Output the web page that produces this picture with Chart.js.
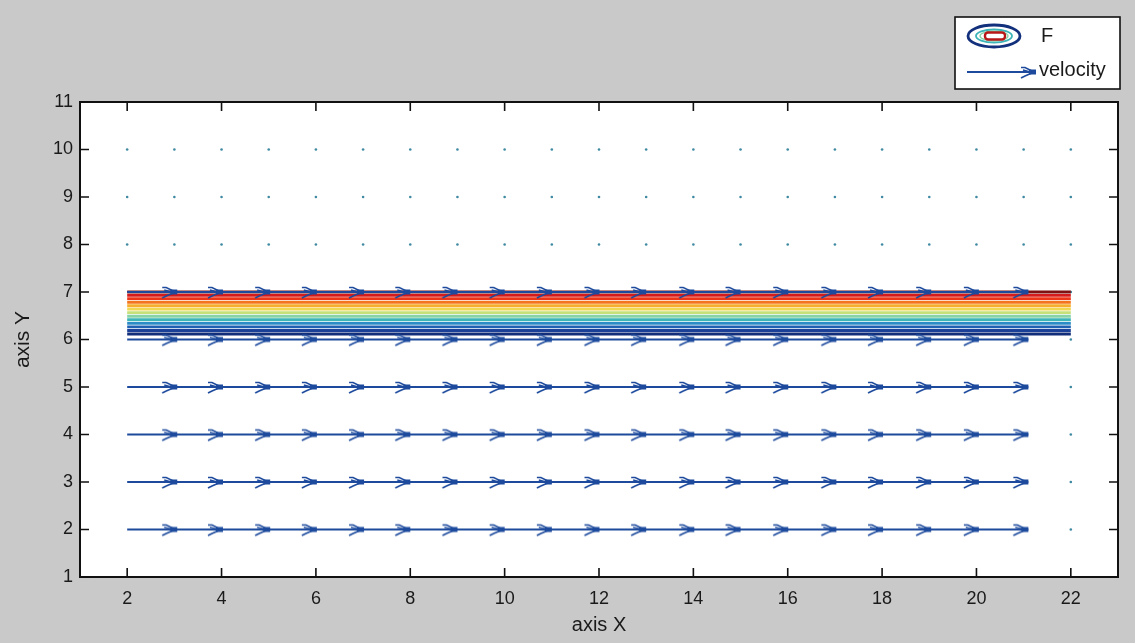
<!DOCTYPE html>
<html>
<head>
<meta charset="utf-8">
<script src="https://cdn.jsdelivr.net/npm/chart.js@4.4.1/dist/chart.umd.min.js"></script>
<style>
html,body{margin:0;padding:0;background:#c9c9c9;}
#wrap{width:1135px;height:643px;}
</style>
</head>
<body>
<div id="wrap"><canvas id="myChart" width="1135" height="643"></canvas></div>
<script>
// axis ticks
const xTicks = [2, 4, 6, 8, 10, 12, 14, 16, 18, 20, 22];
const yTicks = [1, 2, 3, 4, 5, 6, 7, 8, 9, 10, 11];
// grid columns of the field
const gridX = [2, 3, 4, 5, 6, 7, 8, 9, 10, 11, 12, 13, 14, 15, 16, 17, 18, 19, 20, 21, 22];
// velocity rows and arrow tips
const arrowRows = [2, 3, 4, 5, 6, 7];
const arrowTips = [3.06, 4.03, 5.03, 6.02, 7.02, 8.0, 9.0, 10.0, 11.0, 12.01, 13.0, 14.02, 15.0, 16.01, 17.03, 18.02, 19.04, 20.05, 21.1];
const arrowStart = 2;
// zero-velocity rows / column (dots)
const dotRows = [8, 9, 10];
const dotColumnX = 22;
const dotColumnRows = [2, 3, 4, 5, 6, 7];
// contour levels of F (y position of each level line) and jet colours
const contourLevels = [7.00, 6.93, 6.86, 6.785, 6.71, 6.64, 6.565, 6.49, 6.415, 6.34, 6.265, 6.19, 6.115];
const contourColors = ['#7e1212', '#d41a1a', '#ec3418', '#f3741c', '#f7ae2c', '#f2d850', '#c6e07a', '#88d4a8', '#3cb4b8', '#2a8cc6', '#2060b2', '#1a4098', '#122e7a'];
const contourStart = 2, contourEnd = 22;

const arrowColor = '#1d4a9c';
const dotColor = '#3f8aa2';

// arrowhead drawn on a small canvas, tip at the centre
const head = document.createElement('canvas');
head.width = 34; head.height = 16;
(() => {
    const c = head.getContext('2d');
    const tx = 17, ty = 8;
    c.strokeStyle = arrowColor;
    c.fillStyle = arrowColor;
    c.lineWidth = 1.6;
    c.beginPath();
    c.moveTo(tx - 15, ty - 4.5); c.lineTo(tx - 11, ty - 4.5); c.lineTo(tx - 3, ty - 0.5);
    c.moveTo(tx - 15, ty + 6); c.lineTo(tx - 11, ty + 4); c.lineTo(tx - 3, ty + 0.5);
    c.moveTo(tx - 13, ty - 2); c.lineTo(tx - 6, ty);
    c.stroke();
    c.fillRect(tx - 7, ty - 2.5, 7, 5);
})();

const datasets = [];
arrowRows.forEach(y => {
    datasets.push({
        type: 'line', label: 'velocity', order: 0,
        data: [{x: arrowStart, y: y}, {x: arrowTips[arrowTips.length - 1], y: y}],
        borderColor: arrowColor, borderWidth: 1.8, pointRadius: 0
    });
});
datasets.push({
    type: 'scatter', label: 'heads', order: 0,
    data: arrowRows.flatMap(y => arrowTips.map(x => ({x: x, y: y}))),
    pointStyle: head, pointRadius: 8
});
contourLevels.forEach((lvl, i) => {
    datasets.push({
        type: 'line', label: 'F', order: 1,
        data: [{x: contourStart, y: lvl}, {x: contourEnd, y: lvl}],
        borderColor: contourColors[i], borderWidth: 2.9, pointRadius: 0
    });
});
datasets.push({
    type: 'scatter', label: 'dots', order: 2,
    data: dotRows.flatMap(y => gridX.map(x => ({x: x, y: y})))
        .concat(dotColumnRows.map(y => ({x: dotColumnX, y: y}))),
    pointRadius: 1.3, pointBorderWidth: 0, backgroundColor: dotColor
});

const frame = {
    id: 'frame',
    beforeDraw(chart) {
        const {ctx, chartArea: a} = chart;
        ctx.save();
        ctx.fillStyle = '#c9c9c9';
        ctx.fillRect(0, 0, chart.width, chart.height);
        ctx.fillStyle = '#ffffff';
        ctx.fillRect(a.left, a.top, a.right - a.left, a.bottom - a.top);
        ctx.restore();
    },
    afterDraw(chart) {
        const {ctx, chartArea: a, scales} = chart;
        ctx.save();
        ctx.strokeStyle = '#111';
        ctx.lineWidth = 2;
        ctx.strokeRect(a.left, a.top, a.right - a.left, a.bottom - a.top);
        ctx.lineWidth = 1.6;
        const L = 9;
        ctx.beginPath();
        xTicks.forEach(v => {
            const px = scales.x.getPixelForValue(v);
            ctx.moveTo(px, a.bottom); ctx.lineTo(px, a.bottom - L);
            ctx.moveTo(px, a.top); ctx.lineTo(px, a.top + L);
        });
        yTicks.forEach(v => {
            const py = scales.y.getPixelForValue(v);
            ctx.moveTo(a.left, py); ctx.lineTo(a.left + L, py);
            ctx.moveTo(a.right, py); ctx.lineTo(a.right - L, py);
        });
        ctx.stroke();

        // legend
        const bx = 955, by = 17, bw = 165, bh = 72;
        ctx.fillStyle = '#fff';
        ctx.fillRect(bx, by, bw, bh);
        ctx.strokeStyle = '#111';
        ctx.lineWidth = 1.6;
        ctx.strokeRect(bx, by, bw, bh);
        const cx = 994, cy = 36;
        const rings = [[26, 11, '#12307c', 2.8], [18, 6.5, '#3cb4b8', 1.8], [14, 4.8, '#88d4a8', 1.4]];
        rings.forEach(r => {
            ctx.strokeStyle = r[2]; ctx.lineWidth = r[3];
            ctx.beginPath(); ctx.ellipse(cx, cy, r[0], r[1], 0, 0, Math.PI * 2); ctx.stroke();
        });
        ctx.strokeStyle = '#b81818'; ctx.lineWidth = 2.4;
        ctx.beginPath(); ctx.roundRect(cx - 9, cy - 3.5, 20, 7, 3); ctx.stroke();
        ctx.strokeStyle = arrowColor; ctx.lineWidth = 1.8;
        ctx.beginPath(); ctx.moveTo(967, 72); ctx.lineTo(1032, 72); ctx.stroke();
        ctx.drawImage(head, 1036 - 17, 72 - 8);
        ctx.fillStyle = '#1a1a1a';
        ctx.font = '20px "Liberation Sans", Arial, sans-serif';
        ctx.textBaseline = 'middle';
        ctx.fillText('F', 1041, 36);
        ctx.fillText('velocity', 1039, 70);
        ctx.restore();
    }
};

const tickFont = {family: '"Liberation Sans", Arial, sans-serif', size: 18};
new Chart(document.getElementById('myChart'), {
    type: 'scatter',
    data: {datasets: datasets},
    options: {
        responsive: false,
        animation: false,
        devicePixelRatio: 1,
        layout: {padding: {top: 102, right: 17, left: 0, bottom: 0}},
        plugins: {legend: {display: false}, tooltip: {enabled: false}},
        scales: {
            x: {
                type: 'linear', min: 1, max: 23,
                afterBuildTicks: s => { s.ticks = xTicks.map(v => ({value: v})); },
                afterFit: s => { s.height = 66; },
                grid: {display: false, drawTicks: false},
                border: {display: false},
                ticks: {color: '#1a1a1a', font: tickFont, padding: 11},
                title: {display: true, text: 'axis X', color: '#1a1a1a', font: {family: tickFont.family, size: 20}, padding: {top: 0, bottom: 6}}
            },
            y: {
                type: 'linear', min: 1, max: 11,
                afterBuildTicks: s => { s.ticks = yTicks.map(v => ({value: v})); },
                afterFit: s => { s.width = 80; },
                grid: {display: false, drawTicks: false},
                border: {display: false},
                ticks: {color: '#1a1a1a', font: tickFont, padding: 7},
                title: {display: true, text: 'axis Y', color: '#1a1a1a', font: {family: tickFont.family, size: 21}, padding: {top: 11, bottom: 0}}
            }
        }
    },
    plugins: [frame]
});
</script>
</body>
</html>
